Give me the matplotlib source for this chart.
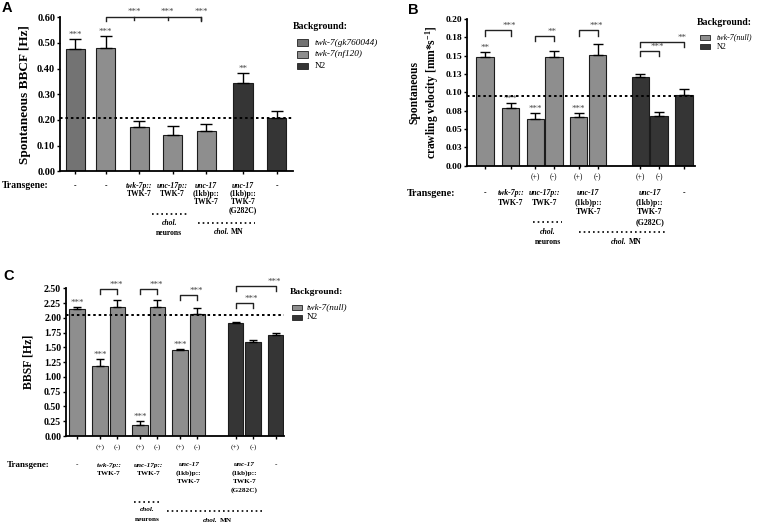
import matplotlib
matplotlib.use('Agg')
import matplotlib.pyplot as plt
from matplotlib import transforms
from matplotlib.lines import Line2D
from matplotlib.patches import Rectangle

plt.rcParams['font.family'] = 'Liberation Serif'
plt.rcParams['font.weight'] = 'bold'
plt.rcParams['mathtext.fontset'] = 'custom'
plt.rcParams['mathtext.rm'] = 'Liberation Serif:bold'
plt.rcParams['mathtext.it'] = 'Liberation Serif:italic:bold'
plt.rcParams['mathtext.bf'] = 'Liberation Serif:bold'

W, H = 760, 523

GREY_D = '#737373'
GREY = '#8e8e8e'
DARK = '#353535'
bg_colors = {'gk760044': GREY_D, 'nf120': GREY, 'null': GREY, 'N2': DARK}

# ---------------- data ----------------
# A: spontaneous body bend frequency
a_pos = [0, 0.9, 1.9, 2.9, 3.9, 5.0, 6.0]
a_mean = [0.476, 0.479, 0.171, 0.141, 0.158, 0.345, 0.208]
a_err = [0.041, 0.049, 0.026, 0.035, 0.026, 0.037, 0.027]
a_bg = ['gk760044', 'nf120', 'nf120', 'nf120', 'nf120', 'N2', 'N2']
a_sig = ['***', '***', '', '', '', '**', '']
a_ctrl = 0.208
a_trans = [(0, ['-']), (1, ['-']), (2, ['twk-7p::', 'TWK-7']), (3, ['unc-17p::', 'TWK-7']),
           (4, ['unc-17', '(1kb)p::', 'TWK-7']), (5, ['unc-17', '(1kb)p::', 'TWK-7', '(G282C)']),
           (6, ['-'])]

# B: spontaneous crawling velocity
b_pos = [0, 1.35, 2.65, 3.62, 4.92, 5.93, 8.17, 9.16, 10.46]
b_mean = [0.148, 0.078, 0.0635, 0.148, 0.067, 0.151, 0.121, 0.0676, 0.0962]
b_err = [0.0075, 0.007, 0.008, 0.0085, 0.0047, 0.0146, 0.004, 0.0054, 0.008]
b_bg = ['null'] * 6 + ['N2'] * 3
b_sig = ['**', '***', '***', '', '***', '', '', '', '']
b_pm = ['', '', '(+)', '(-)', '(+)', '(-)', '(+)', '(-)', '']
b_ctrl = 0.0957
b_brackets = [(0, 1, 0.185, '***'), (2, 3, 0.177, '**'), (4, 5, 0.185, '***'),
              (6, 7, 0.1565, '***'), (6, 8, 0.169, '**')]
b_trans = [((0,), ['-']), ((1,), ['twk-7p::', 'TWK-7']), ((2, 3), ['unc-17p::', 'TWK-7']),
           ((4, 5), ['unc-17', '(1kb)p::', 'TWK-7']),
           ((6, 7), ['unc-17', '(1kb)p::', 'TWK-7', '(G282C)']), ((8,), ['-'])]
b_yticks = [0, 0.025, 0.05, 0.075, 0.1, 0.125, 0.15, 0.175, 0.2]
b_ytl = ['0.00', '0.03', '0.05', '0.08', '0.10', '0.13', '0.15', '0.18', '0.20']

# C: body bend swimming frequency
c_pos = [0, 1.32, 2.32, 3.63, 4.63, 5.95, 6.95, 9.15, 10.15, 11.47]
c_mean = [2.15, 1.19, 2.18, 0.18, 2.19, 1.45, 2.065, 1.91, 1.585, 1.71]
c_err = [0.03, 0.11, 0.12, 0.08, 0.11, 0.03, 0.10, 0.02, 0.045, 0.03]
c_bg = ['null'] * 7 + ['N2'] * 3
c_sig = ['***', '***', '', '***', '', '***', '', '', '', '']
c_pm = ['', '(+)', '(-)', '(+)', '(-)', '(+)', '(-)', '(+)', '(-)', '']
c_ctrl = 2.04
c_brackets = [(1, 2, 2.49, '***'), (3, 4, 2.49, '***'), (5, 6, 2.39, '***'),
              (7, 8, 2.25, '***'), (7, 9, 2.54, '***')]
c_trans = [((0,), ['-']), ((1, 2), ['twk-7p::', 'TWK-7']), ((3, 4), ['unc-17p::', 'TWK-7']),
           ((5, 6), ['unc-17', '(1kb)p::', 'TWK-7']),
           ((7, 8), ['unc-17', '(1kb)p::', 'TWK-7', '(G282C)']), ((9,), ['-'])]

STAR_FS = 6.5


def fx(px):
    return px / W


def fy(py):
    return 1 - py / H


def draw_bars(ax, pos, mean, err, bg, width, cap, ctrl):
    cols = [bg_colors[b] for b in bg]
    ax.bar(pos, mean, width=width, color=cols, edgecolor='#1c1c1c', linewidth=0.8, zorder=2)
    ax.errorbar(pos, mean, yerr=[[0] * len(err), err], fmt='none', ecolor='black',
                elinewidth=1.0, capsize=cap, capthick=1.0, zorder=3)
    ax.axhline(ctrl, color='black', ls=(0, (1.3, 1.5)), lw=1.4, zorder=4)
    for s in ['top', 'right']:
        ax.spines[s].set_visible(False)
    for s in ['left', 'bottom']:
        ax.spines[s].set_linewidth(1.3)
    ax.set_xticks(pos)
    ax.set_xticklabels([])
    ax.tick_params(axis='both', direction='out', length=2.5, width=1.0, pad=1)


def stars(ax, pos, mean, err, sig, fs):
    for x, m, e, s in zip(pos, mean, err, sig):
        if s:
            ax.annotate(s, (x, m + e), xytext=(0, 0), textcoords='offset points',
                        ha='center', va='bottom', fontsize=fs, color='#444444',
                        fontweight='normal', annotation_clip=False)


def bracket(ax, x1, x2, y, drop, label, fs):
    ax.plot([x1, x1, x2, x2], [y - drop, y, y, y - drop], color='#222222', lw=1.0,
            clip_on=False, zorder=5)
    ax.annotate(label, (x2, y), xytext=(-1, 0), textcoords='offset points',
                ha='center', va='bottom', fontsize=fs, color='#444444',
                fontweight='normal', annotation_clip=False)


def transgene(fig, ax, x, y0, lines, fs, dy):
    tr = transforms.blended_transform_factory(ax.transData, fig.transFigure)
    for k, line in enumerate(lines):
        it = line.startswith(('twk', 'unc'))
        ax.text(x, fy(y0 + k * dy), line, transform=tr, ha='center', va='center',
                fontsize=fs, style='italic' if it else 'normal', fontweight='bold')


def dots(fig, x1, x2, y):
    fig.add_artist(Line2D([fx(x1), fx(x2)], [fy(y), fy(y)], transform=fig.transFigure,
                          color='black', lw=1.2, ls=(0, (1.0, 1.8))))


def chol(fig, x, y, second, fs):
    if second == 'MN':
        fig.text(fx(x), fy(y), 'chol.', ha='right', va='center', fontsize=fs, style='italic')
        fig.text(fx(x + 2), fy(y), 'MN', ha='left', va='center', fontsize=fs)
    else:
        fig.text(fx(x), fy(y), 'chol.', ha='center', va='center', fontsize=fs, style='italic')
        fig.text(fx(x), fy(y + 10), second, ha='center', va='center', fontsize=fs)


def legend(fig, xt, yt, fst, items, xp, pw, ph, ys, xl, fsl):
    fig.text(fx(xt), fy(yt), 'Background:', ha='left', va='center', fontsize=fst, fontweight='bold')
    for (lab, key, it), y in zip(items, ys):
        fig.add_artist(Rectangle((fx(xp), fy(y + ph / 2)), pw / W, ph / H, transform=fig.transFigure,
                                 facecolor=bg_colors[key], edgecolor='#222222', lw=0.6))
        fig.text(fx(xl), fy(y), lab, ha='left', va='center', fontsize=fsl,
                 style='italic' if it else 'normal', fontweight='normal')


fig = plt.figure(figsize=(W / 100, H / 100), dpi=100)

# ---------------- panel A ----------------
axA = fig.add_axes([fx(60), fy(171.3), 233 / W, 154 / H])
draw_bars(axA, a_pos, a_mean, a_err, a_bg, 0.57, 4.0, a_ctrl)
axA.set_xlim(-0.46, 6.49)
axA.set_ylim(0, 0.6)
axA.set_yticks([0, 0.1, 0.2, 0.3, 0.4, 0.5, 0.6])
axA.set_yticklabels(['%.2f' % v for v in axA.get_yticks()], fontsize=7.5)
stars(axA, a_pos, a_mean, a_err, a_sig, STAR_FS)
# comb bracket from bar 2 to the three transgenic bars
ya = 0.602
axA.plot([a_pos[1], a_pos[1], a_pos[4] - 0.15, a_pos[4] - 0.15], [ya - 0.018, ya, ya, ya - 0.018],
         color='#222222', lw=1.0, clip_on=False)
for i in [2, 3, 4]:
    axA.plot([a_pos[i] - 0.15] * 2, [ya, ya - 0.012], color='#222222', lw=1.0, clip_on=False)
    axA.annotate('***', (a_pos[i] - 0.15, ya), xytext=(0, 1), textcoords='offset points',
                 ha='center', va='bottom', fontsize=STAR_FS, color='#444444', fontweight='normal',
                 annotation_clip=False)
fig.text(fx(25), fy(94.3), 'Spontaneous BBCF [Hz]', rotation=90, ha='center', va='center', fontsize=9.5)
fig.text(fx(2), fy(185.7), 'Transgene:', ha='left', va='center', fontsize=7.0)
for i, lines in a_trans:
    transgene(fig, axA, a_pos[i], 185.7, lines, 5.5, 8.3)
dots(fig, 151.7, 186.7, 214)
chol(fig, 169.3, 222.7, 'neurons', 5.5)
dots(fig, 198.3, 255, 222.7)
chol(fig, 229, 231.5, 'MN', 5.5)
legend(fig, 293, 26.7, 7, [('twk-7(gk760044)', 'gk760044', True), ('twk-7(nf120)', 'nf120', True),
                           ('N2', 'N2', False)],
       296.7, 11.6, 6.5, [42.7, 54.3, 66], 315, 6.7)
fig.text(fx(2), fy(8.3), 'A', family='Liberation Sans', fontweight='bold', fontsize=10.5, va='center')

# ---------------- panel B ----------------
axB = fig.add_axes([fx(467), fy(165.7), 228 / W, 146.7 / H])
draw_bars(axB, b_pos, b_mean, b_err, b_bg, 0.92, 3.5, b_ctrl)
axB.set_xlim(-0.95, 11.05)
axB.set_ylim(0, 0.2)
axB.set_yticks(b_yticks)
axB.set_yticklabels(b_ytl, fontsize=6.8)
stars(axB, b_pos, b_mean, b_err, b_sig, STAR_FS)
for i, j, y, lab in b_brackets:
    bracket(axB, b_pos[i], b_pos[j], y, 0.0075, lab, STAR_FS)
trB = transforms.blended_transform_factory(axB.transData, fig.transFigure)
for x, s in zip(b_pos, b_pm):
    if s:
        axB.text(x, fy(176.7), s, transform=trB, ha='center', va='center', fontsize=5.5, fontweight='normal')
fig.text(fx(425), fy(92.3), 'Spontaneous\ncrawling velocity [mm*s$^{-1}$]', rotation=90,
         ha='center', va='center', fontsize=8.3, linespacing=1.25)
fig.text(fx(406.7), fy(194), 'Transgene:', ha='left', va='center', fontsize=7.3)
for idx, lines in b_trans:
    transgene(fig, axB, sum(b_pos[k] for k in idx) / len(idx), 193.3, lines, 5.6, 9.6)
dots(fig, 533, 562, 222.3)
chol(fig, 548, 231.7, 'neurons', 5.6)
dots(fig, 579, 667, 231.7)
chol(fig, 627, 241.5, 'MN', 5.6)
legend(fig, 697, 22.7, 7, [('twk-7(null)', 'null', True), ('N2', 'N2', False)],
       700, 10, 5, [37.3, 46.7], 716.7, 5.8)
fig.text(fx(408), fy(9.5), 'B', family='Liberation Sans', fontweight='bold', fontsize=10.5, va='center')

# ---------------- panel C ----------------
axC = fig.add_axes([fx(66), fy(436), 218 / W, 147.7 / H])
draw_bars(axC, c_pos, c_mean, c_err, c_bg, 0.9, 3.0, c_ctrl)
axC.set_xlim(-0.65, 11.95)
axC.set_ylim(0, 2.5)
axC.set_yticks([0.25 * k for k in range(11)])
axC.set_yticklabels(['%.2f' % (0.25 * k) for k in range(11)], fontsize=7.1)
stars(axC, c_pos, c_mean, c_err, c_sig, STAR_FS)
for i, j, y, lab in c_brackets:
    bracket(axC, c_pos[i], c_pos[j], y, 0.09, lab, STAR_FS)
trC = transforms.blended_transform_factory(axC.transData, fig.transFigure)
for x, s in zip(c_pos, c_pm):
    if s:
        axC.text(x, fy(446.7), s, transform=trC, ha='center', va='center', fontsize=5.3, fontweight='normal')
fig.text(fx(28.3), fy(362), 'BBSF [Hz]', rotation=90, ha='center', va='center', fontsize=8.5)
fig.text(fx(7), fy(465), 'Transgene:', ha='left', va='center', fontsize=6.5)
for idx, lines in c_trans:
    transgene(fig, axC, sum(c_pos[k] for k in idx) / len(idx), 465, lines, 5.2, 8.3)
dots(fig, 134, 160, 501.7)
chol(fig, 147, 509.5, 'neurons', 5.2)
dots(fig, 167, 263, 511)
chol(fig, 218, 520, 'MN', 5.2)
legend(fig, 290, 291.7, 6.8, [('twk-7(null)', 'null', True), ('N2', 'N2', False)],
       291.7, 10, 5, [307.3, 317.3], 306.7, 6.6)
fig.text(fx(3), fy(276), 'C', family='Liberation Sans', fontweight='bold', fontsize=10.5, va='center')

fig.savefig('out.png', dpi=100)
